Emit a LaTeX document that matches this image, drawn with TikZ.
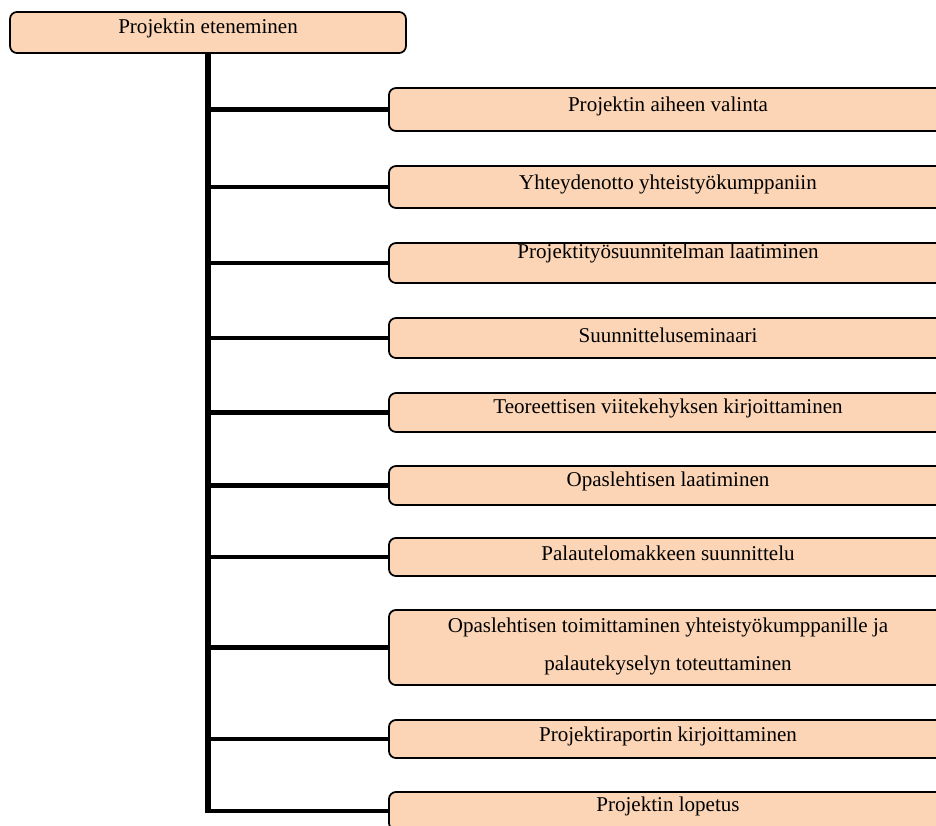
\documentclass[tikz,border=0pt]{standalone}
\usepackage{fontspec}
\setmainfont{Liberation Serif}
\usetikzlibrary{positioning}

\definecolor{peach}{RGB}{251,213,181}

\begin{document}
\begin{tikzpicture}[
    x=0.57pt,
    y=-0.57pt,
    box/.style={draw, fill=peach, line width=1pt, rounded corners=4pt, inner sep=0pt, minimum width=325.5pt},
    rootbox/.style={draw, fill=peach, line width=1pt, rounded corners=4pt, inner sep=0pt, minimum width=225.7pt, minimum height=23.4pt},
    lbl/.style={inner sep=0pt, align=center, font=\fontsize{12}{21.7}\selectfont},
    trunk/.style={line width=3.4pt},
    branch/.style={line width=2.8pt}
]
\clip (0,0) rectangle (936,825);

% boxes
\node[rootbox] (root) at (208,32.5) {};
\node[box, minimum height=24.5pt] (aihe) at (674.5,109.5) {};
\node[box, minimum height=23.9pt] (yhteys) at (674.5,187) {};
\node[box, minimum height=22.8pt] (suunnitelma) at (674.5,263) {};
\node[box, minimum height=22.8pt] (seminaari) at (674.5,338) {};
\node[box, minimum height=22.2pt] (teoria) at (674.5,412.5) {};
\node[box, minimum height=22.2pt] (opas) at (674.5,485.5) {};
\node[box, minimum height=21.7pt] (palaute) at (674.5,557) {};
\node[box, minimum height=42.8pt] (toimitus) at (674.5,647.5) {};
\node[box, minimum height=21.7pt] (raportti) at (674.5,739) {};
\node[box, minimum height=21.7pt] (lopetus) at (674.5,811) {};

% texts
\node[lbl] (rootlbl) at (208,28) {Projektin eteneminen};
\node[lbl] (aihelbl) at (668,106) {Projektin aiheen valinta};
\node[lbl] (yhteyslbl) at (668,184) {Yhteydenotto yhteistyökumppaniin};
\node[lbl] (suunnitelmalbl) at (668,253) {Projektityösuunnitelman laatiminen};
\node[lbl] (seminaarilbl) at (668,335) {Suunnitteluseminaari};
\node[lbl] (teorialbl) at (668,408) {Teoreettisen viitekehyksen kirjoittaminen};
\node[lbl] (opaslbl) at (668,481) {Opaslehtisen laatiminen};
\node[lbl] (palautelbl) at (668,553) {Palautelomakkeen suunnittelu};
\node[lbl] (toimituslbl) at (668,646) {Opaslehtisen toimittaminen yhteistyökumppanille ja\\palautekyselyn toteuttaminen};
\node[lbl] (raporttilbl) at (668,736) {Projektiraportin kirjoittaminen};
\node[lbl] (lopetuslbl) at (668,806) {Projektin lopetus};

% connectors
\draw[trunk] (root.south) -- (root.south |- lopetus.west);
\draw[branch] (root.south |- aihe.west) -- (aihe.west);
\draw[branch] (root.south |- yhteys.west) -- (yhteys.west);
\draw[branch] (root.south |- suunnitelma.west) -- (suunnitelma.west);
\draw[branch] (root.south |- seminaari.west) -- (seminaari.west);
\draw[branch] (root.south |- teoria.west) -- (teoria.west);
\draw[branch] (root.south |- opas.west) -- (opas.west);
\draw[branch] (root.south |- palaute.west) -- (palaute.west);
\draw[branch] (root.south |- toimitus.west) -- (toimitus.west);
\draw[branch] (root.south |- raportti.west) -- (raportti.west);
\draw[branch] ([xshift=-1.7pt]root.south |- lopetus.west) -- (lopetus.west);
\end{tikzpicture}
\end{document}
